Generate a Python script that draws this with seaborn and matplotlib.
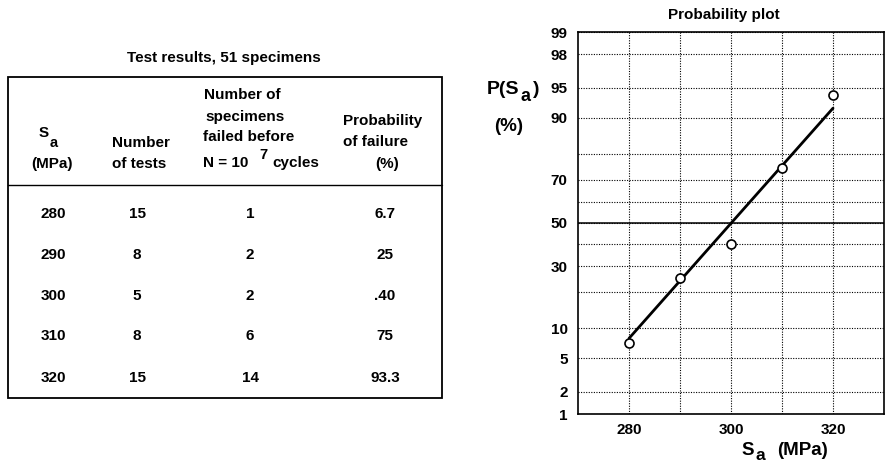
"""
Fatigue test results (table) and normal probability plot of P(Sa).
"""

from statistics import NormalDist

import numpy as np
import matplotlib
matplotlib.use("Agg")
import matplotlib.pyplot as plt
from matplotlib.patches import Rectangle
import seaborn as sns

# ── data ────────────────────────────────────────────────────────────────────
stress = [280, 290, 300, 310, 320]             # Sa (MPa)
n_tests = [15, 8, 5, 8, 15]
n_failed = [1, 2, 2, 6, 14]
prob_text = ["6.7", "25", ".40", "75", "93.3"]  # as printed in the table
prob_plotted = [7.2, 25, 40, 75, 94]            # P(Sa) %

fit_stress = [280, 320]                          # fitted straight line ends
fit_prob = [8.0, 91.9]

y_labelled = [1, 2, 5, 10, 30, 50, 70, 90, 95, 98, 99]
y_unlabelled = [20, 40, 60, 80]
x_labelled = [280, 300, 320]
x_unlabelled = [290, 310]

# ── style ───────────────────────────────────────────────────────────────────
sns.set_theme(style="white")
plt.rcParams["font.family"] = ["Liberation Sans", "DejaVu Sans"]
plt.rcParams["font.weight"] = "bold"
for key in ("text.color", "axes.labelcolor", "xtick.color", "ytick.color"):
    plt.rcParams[key] = "black"

FS = 11
W, H = 888, 462

_nd = NormalDist()


def pct_to_z(p):
    p = np.clip(np.asarray(p, dtype=float), 1e-4, 100 - 1e-4)
    return np.vectorize(lambda v: _nd.inv_cdf(v / 100.0), otypes=[float])(p)


def z_to_pct(z):
    z = np.asarray(z, dtype=float)
    return np.vectorize(lambda v: _nd.cdf(v) * 100.0, otypes=[float])(z)


fig = plt.figure(figsize=(W / 100, H / 100), dpi=100)

# ── table (drawn in pixel coordinates on an overlay axes) ────────────────
tab = fig.add_axes([0, 0, 1, 1])
tab.set_xlim(0, W)
tab.set_ylim(H, 0)
tab.axis("off")


def put(x, y, s, size=FS, ha="left"):
    tab.text(x, y, s, ha=ha, va="baseline", fontsize=size, fontweight="bold")


put(224, 62, "Test results, 51 specimens", ha="center")
tab.add_patch(Rectangle((8, 77), 434, 321, fill=False, lw=1.3, ec="black"))
tab.plot([8, 442], [185, 185], color="black", lw=1.0)

# header
put(39, 137, "S")
put(50, 147, "a", size=FS - 0.5)
put(52, 168, "(MPa)", ha="center")
put(112, 147, "Number")
put(112, 168, "of tests")
put(204, 99, "Number of")
put(205, 121, "specimens")
put(203, 141, "failed before")
put(203, 167, "N = 10")
put(259, 159, "7", size=FS - 0.5)
put(272, 167, "cycles")
put(343, 125, "Probability")
put(343, 146, "of failure")
put(387, 168, "(%)", ha="center")

row_y = [218, 259, 300, 340, 382]
for yy, s, n, f, p in zip(row_y, stress, n_tests, n_failed, prob_text):
    put(53, yy, str(s), ha="center")
    put(137, yy, str(n), ha="center")
    put(250, yy, str(f), ha="center")
    put(385, yy, p, ha="center")

# ── probability plot ───────────────────────────────────────────────────────
ax = fig.add_axes([578 / W, 1 - 414 / H, 306 / W, (414 - 32) / H])

sns.lineplot(x=fit_stress, y=fit_prob, color="black", lw=2.0, ax=ax, zorder=3)
sns.scatterplot(x=stress, y=prob_plotted, marker="o", s=42, color="white",
                edgecolor="black", linewidth=1.2, ax=ax, zorder=4)

ax.set_yscale("function", functions=(pct_to_z, z_to_pct))
ax.set_ylim(1, 99)
ax.set_xlim(270, 330)

ax.set_yticks(y_labelled)
ax.set_yticklabels([str(v) for v in y_labelled])
ax.set_yticks(y_unlabelled, minor=True)
ax.set_xticks(x_labelled)
ax.set_xticklabels([str(v) for v in x_labelled])
ax.set_xticks(x_unlabelled, minor=True)

ax.grid(True, which="both", color="black", lw=0.8, linestyle=(0, (1, 1.3)))
ax.axhline(50, color="black", lw=1.1, zorder=2)

ax.tick_params(axis="both", which="both", length=0, labelsize=FS)
ax.tick_params(axis="y", pad=7.5)
ax.tick_params(axis="x", pad=6.5)
for lab in ax.get_xticklabels() + ax.get_yticklabels():
    lab.set_fontweight("bold")
for sp in ax.spines.values():
    sp.set_visible(True)
    sp.set_color("black")
    sp.set_linewidth(1.2)
ax.set_xlabel("")
ax.set_ylabel("")

put(724, 19, "Probability plot", ha="center")
# y label  P(Sa)  (%)
put(487, 94, "P(S", size=14)
put(520, 101, "a", size=13)
put(533, 94, ")", size=14)
put(494, 131, "(%)", size=13.5)
# x label  Sa (MPa)
put(741, 455, "S", size=13.5)
put(755, 460, "a", size=12.5)
put(777, 455, "(MPa)", size=13.5)

fig.savefig("out.png", dpi=100)
